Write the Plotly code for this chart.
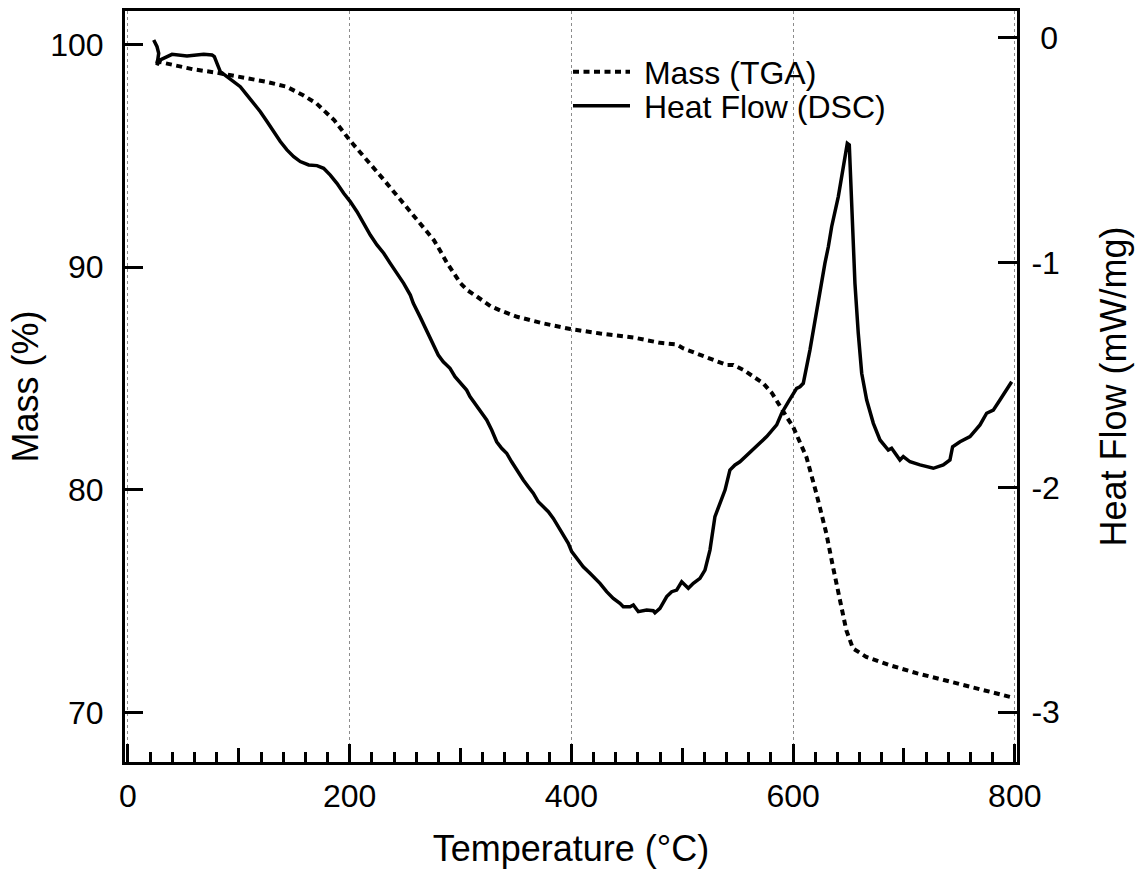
import plotly.graph_objects as go

# ---- data ----
T_tga = [25, 38, 59, 80, 101, 125, 143, 158, 170, 186, 200, 216, 231, 246, 261, 276,
         282, 288, 300, 306, 315, 327, 336, 351, 375, 399, 426, 456, 480, 495, 501,
         516, 528, 540, 546, 555, 564, 573, 581, 588, 594, 600, 606, 612, 621, 630,
         636, 642, 648, 654, 666, 687, 712, 736, 766, 796]
mass_tga = [99.25, 99.10, 98.88, 98.73, 98.55, 98.32, 98.10, 97.72, 97.35, 96.60, 95.70,
            94.80, 93.91, 93.01, 92.11, 91.21, 90.70, 90.17, 89.27, 88.97, 88.67, 88.25,
            88.05, 87.77, 87.47, 87.22, 87.02, 86.84, 86.60, 86.53, 86.35, 86.05, 85.84,
            85.61, 85.61, 85.39, 85.09, 84.79, 84.34, 83.74, 83.29, 82.83, 82.10, 81.48,
            79.84, 78.04, 76.54, 75.05, 73.70, 72.88, 72.50, 72.13, 71.76, 71.46, 71.08,
            70.70]

T_dsc = [23.2, 26.2, 27.7, 26.2, 29.1, 35.2, 39.7, 53.2, 68.3, 75.8, 77.9, 80.3, 83.3,
         89.3, 95.3, 101.3, 107.4, 113.4, 119.4, 125.4, 131.4, 137.4, 143.4, 149.5, 155.4,
         163.0, 170.5, 176.5, 182.5, 188.5, 194.6, 200.5, 206.6, 212.6, 218.6, 224.6,
         230.7, 236.6, 242.7, 248.7, 254.7, 257.4, 263.4, 269.5, 275.4, 279.9, 284.4,
         290.5, 295.0, 301.0, 305.5, 308.5, 313.0, 317.5, 323.6, 328.1, 332.6, 337.1,
         341.6, 346.1, 350.6, 356.6, 361.1, 365.6, 370.1, 374.7, 379.2, 383.7, 388.2,
         392.7, 397.2, 400.3, 404.8, 410.7, 416.8, 421.3, 425.8, 431.8, 437.8, 443.8,
         446.8, 452.9, 455.9, 460.4, 467.9, 473.9, 475.4, 479.9, 486.0, 490.5, 495.0,
         499.5, 505.5, 510.0, 516.0, 520.5, 525.0, 529.5, 534.0, 538.6, 543.0, 547.6,
         552.0, 559.6, 564.1, 570.1, 576.2, 585.2, 589.7, 595.7, 603.2, 606.2, 609.2,
         615.2, 619.7, 624.2, 628.7, 631.8, 634.8, 640.8, 645.3, 648.9, 650.7, 652.9,
         655.8, 658.8, 661.9, 666.4, 672.4, 678.4, 685.9, 688.9, 696.4, 699.4, 705.5,
         714.5, 726.5, 735.5, 741.5, 743.9, 750.6, 759.6, 768.6, 774.6, 780.6, 786.6,
         795.7, 797.2]
heat_dsc = [-0.009, -0.039, -0.068, -0.120, -0.098, -0.083, -0.073, -0.080, -0.073, -0.076,
            -0.083, -0.113, -0.150, -0.172, -0.194, -0.217, -0.254, -0.291, -0.328, -0.372,
            -0.417, -0.461, -0.498, -0.528, -0.550, -0.565, -0.568, -0.580, -0.610, -0.647,
            -0.691, -0.728, -0.773, -0.825, -0.877, -0.921, -0.958, -1.003, -1.047, -1.092,
            -1.144, -1.181, -1.240, -1.300, -1.359, -1.411, -1.441, -1.470, -1.507, -1.544,
            -1.567, -1.596, -1.626, -1.656, -1.700, -1.745, -1.797, -1.826, -1.848, -1.886,
            -1.923, -1.967, -1.997, -2.026, -2.064, -2.086, -2.108, -2.138, -2.175, -2.212,
            -2.249, -2.286, -2.316, -2.353, -2.382, -2.405, -2.427, -2.464, -2.494, -2.516,
            -2.531, -2.531, -2.523, -2.553, -2.546, -2.549, -2.558, -2.538, -2.486, -2.464,
            -2.457, -2.420, -2.449, -2.427, -2.405, -2.368, -2.279, -2.130, -2.071, -2.012,
            -1.923, -1.900, -1.886, -1.851, -1.834, -1.804, -1.774, -1.722, -1.670, -1.619,
            -1.559, -1.552, -1.537, -1.389, -1.255, -1.121, -1.003, -0.929, -0.840, -0.706,
            -0.573, -0.469, -0.476, -0.721, -1.092, -1.314, -1.492, -1.611, -1.715, -1.789,
            -1.834, -1.826, -1.878, -1.863, -1.886, -1.900, -1.915, -1.900, -1.878, -1.819,
            -1.797, -1.774, -1.722, -1.670, -1.656, -1.611, -1.537, -1.530]

x_major_ticks = [0, 200, 400, 600, 800]
x_mid_ticks = [100, 300, 500, 700]
mass_ticks = [70, 80, 90, 100]
heat_ticks = [-3, -2, -1, 0]
heat_tick_text = ["-3", "-2", "-1", "\u20080"]

FONT = "Liberation Sans, Arial, sans-serif"
W, H = 1137, 869
L, R, T, B = 125, 1017, 11, 762
TICK_FS, TITLE_FS, LEG_FS = 32, 36, 32

fig = go.Figure()
fig.add_trace(go.Scatter(
    x=T_tga, y=mass_tga, mode="lines", name="\u00a0Mass (TGA)",
    line=dict(color="black", width=4, dash="6px,4.5px"),
    xaxis="x", yaxis="y", legend="legend"))
fig.add_trace(go.Scatter(
    x=T_dsc, y=heat_dsc, mode="lines", name="\u00a0Heat Flow (DSC)",
    line=dict(color="black", width=3.5),
    xaxis="x", yaxis="y2", legend="legend2"))
# invisible trace to carry the secondary tick axis
fig.add_trace(go.Scatter(x=[x_mid_ticks[0]], y=[mass_ticks[0]], mode="lines",
                         showlegend=False, hoverinfo="skip",
                         xaxis="x2", yaxis="y", line=dict(width=0)))

xrange = [-2.7, 802]
fig.update_layout(
    width=W, height=H,
    margin=dict(l=L, r=W - R, t=T, b=H - B, pad=0, autoexpand=False),
    paper_bgcolor="white", plot_bgcolor="white",
    font=dict(family=FONT, color="black", size=TICK_FS),
    xaxis=dict(
        range=xrange, tickvals=x_major_ticks, ticks="inside", ticklen=18, tickwidth=3,
        tickcolor="black", showline=True, linewidth=3, linecolor="black", mirror=True,
        showgrid=True, gridcolor="#8c8c8c", gridwidth=1, griddash="dot", zeroline=False,
        tickfont=dict(size=TICK_FS), ticklabelstandoff=4, automargin=False,
        minor=dict(dtick=20, tick0=0, ticks="inside", ticklen=10, tickwidth=2.5,
                   tickcolor="black", showgrid=False),
        title=dict(text="Temperature (°C)", font=dict(size=TITLE_FS), standoff=38),
    ),
    xaxis2=dict(
        range=xrange, overlaying="x", anchor="y", side="bottom",
        tickvals=x_mid_ticks, ticks="inside", ticklen=14, tickwidth=2.5,
        tickcolor="black", showticklabels=False, showgrid=False, zeroline=False,
        showline=False, automargin=False,
    ),
    yaxis=dict(
        range=[67.78, 101.5], tickvals=mass_ticks, ticks="inside", ticklen=18,
        tickwidth=3, tickcolor="black", showline=True, linewidth=3, linecolor="black",
        showgrid=False, zeroline=False, tickfont=dict(size=TICK_FS), ticklabelstandoff=12,
        automargin=False,
        title=dict(text="Mass (%)", font=dict(size=TITLE_FS), standoff=1),
    ),
    yaxis2=dict(
        range=[-3.222, 0.12], tickvals=heat_ticks, ticktext=heat_tick_text,
        overlaying="y", side="right",
        anchor="x", ticks="inside", ticklen=19, tickwidth=3, tickcolor="black",
        showline=True, linewidth=3, linecolor="black", showgrid=False, zeroline=False,
        tickfont=dict(size=TICK_FS), ticklabelstandoff=5, automargin=False,
        title=dict(text="Heat Flow (mW/mg)", font=dict(size=TITLE_FS), standoff=42),
    ),
    legend=dict(x=(568 - L) / (R - L), y=(B - 72) / (B - T), xanchor="left",
                yanchor="middle", bgcolor="rgba(0,0,0,0)", font=dict(size=LEG_FS),
                itemwidth=57, borderwidth=0),
    legend2=dict(x=(568 - L) / (R - L), y=(B - 106) / (B - T), xanchor="left",
                 yanchor="middle", bgcolor="rgba(0,0,0,0)", font=dict(size=LEG_FS),
                 itemwidth=57, borderwidth=0),
)

fig.write_html("out.html")
